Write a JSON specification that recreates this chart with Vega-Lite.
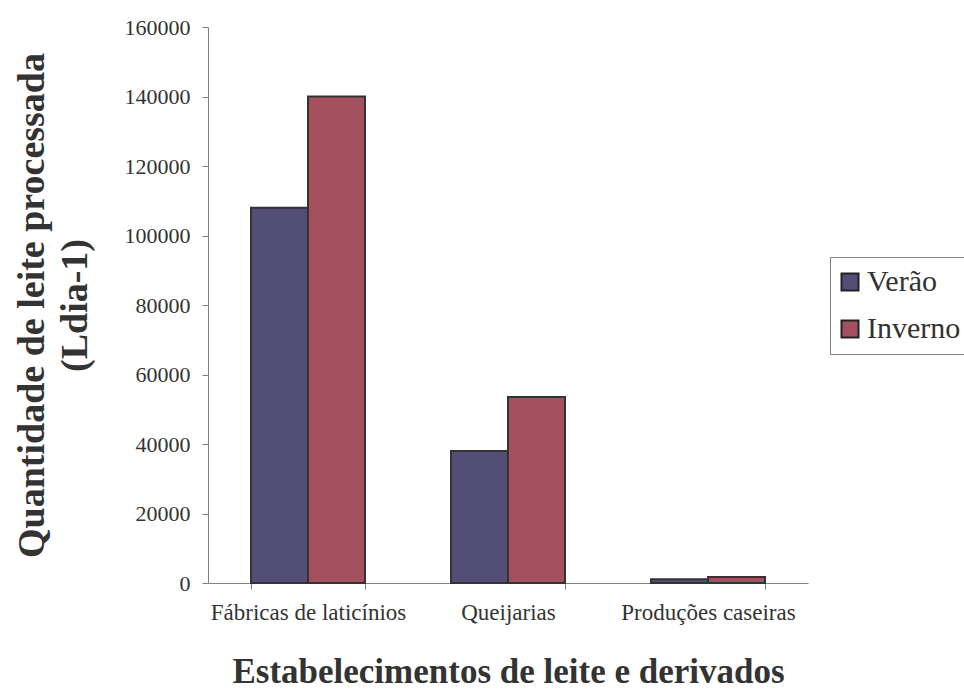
{
  "$schema": "https://vega.github.io/schema/vega-lite/v6.json",
  "width": 600,
  "height": 556,
  "autosize": {"type": "none"},
  "padding": {"left": 208, "top": 27, "right": 156, "bottom": 106},
  "background": "white",
  "data": {
    "values": [
      {"estabelecimento": "Fábricas de laticínios", "estacao": "Verão", "litros": 108000},
      {"estabelecimento": "Fábricas de laticínios", "estacao": "Inverno", "litros": 140000},
      {"estabelecimento": "Queijarias", "estacao": "Verão", "litros": 38000},
      {"estabelecimento": "Queijarias", "estacao": "Inverno", "litros": 53500},
      {"estabelecimento": "Produções caseiras", "estacao": "Verão", "litros": 1100},
      {"estabelecimento": "Produções caseiras", "estacao": "Inverno", "litros": 1700}
    ]
  },
  "config": {
    "font": "Liberation Serif",
    "view": {"stroke": null}
  },
  "mark": {"type": "bar", "stroke": "#333333", "strokeWidth": 2},
  "encoding": {
    "x": {
      "field": "estabelecimento",
      "type": "nominal",
      "sort": ["Fábricas de laticínios", "Queijarias", "Produções caseiras"],
      "scale": {"paddingInner": 0.43, "paddingOuter": 0.215},
      "axis": {
        "title": "Estabelecimentos de leite e derivados",
        "titleFont": "Liberation Serif",
        "titleFontSize": 35,
        "titleFontWeight": "bold",
        "titleColor": "#333333",
        "titlePadding": 30,
        "labelAngle": 0,
        "labelFontSize": 23,
        "labelLimit": 400,
        "labelColor": "#333333",
        "labelPadding": 12,
        "tickBand": "extent",
        "tickSize": 6,
        "domainColor": "#808080",
        "tickColor": "#808080",
        "grid": false
      }
    },
    "xOffset": {
      "field": "estacao",
      "type": "nominal",
      "sort": ["Verão", "Inverno"],
      "scale": {"paddingInner": 0, "paddingOuter": 0}
    },
    "y": {
      "field": "litros",
      "type": "quantitative",
      "scale": {"domain": [0, 160000], "nice": false},
      "axis": {
        "title": ["Quantidade de leite processada", "(Ldia-1)"],
        "titleFont": "Liberation Serif",
        "titleFontSize": 38,
        "titleFontWeight": "bold",
        "titleColor": "#333333",
        "titleLineHeight": 43,
        "titlePadding": 30,
        "values": [0, 20000, 40000, 60000, 80000, 100000, 120000, 140000, 160000],
        "format": "d",
        "labelFontSize": 22,
        "labelColor": "#333333",
        "labelPadding": 12,
        "tickSize": 6,
        "domainColor": "#808080",
        "tickColor": "#808080",
        "grid": false
      }
    },
    "color": {
      "field": "estacao",
      "type": "nominal",
      "sort": ["Verão", "Inverno"],
      "scale": {"domain": ["Verão", "Inverno"], "range": ["#534e76", "#a5505e"]},
      "legend": {
        "title": null,
        "orient": "none",
        "legendX": 622,
        "legendY": 230,
        "labelFontSize": 30,
        "labelColor": "#333333",
        "labelFont": "Liberation Serif",
        "labelOffset": 2,
        "symbolOffset": -5,
        "symbolType": "square",
        "symbolSize": 289,
        "symbolStrokeColor": "#222222",
        "symbolStrokeWidth": 2,
        "rowPadding": 17,
        "padding": 10,
        "strokeColor": "#808080",
        "fillColor": "white"
      }
    }
  }
}
